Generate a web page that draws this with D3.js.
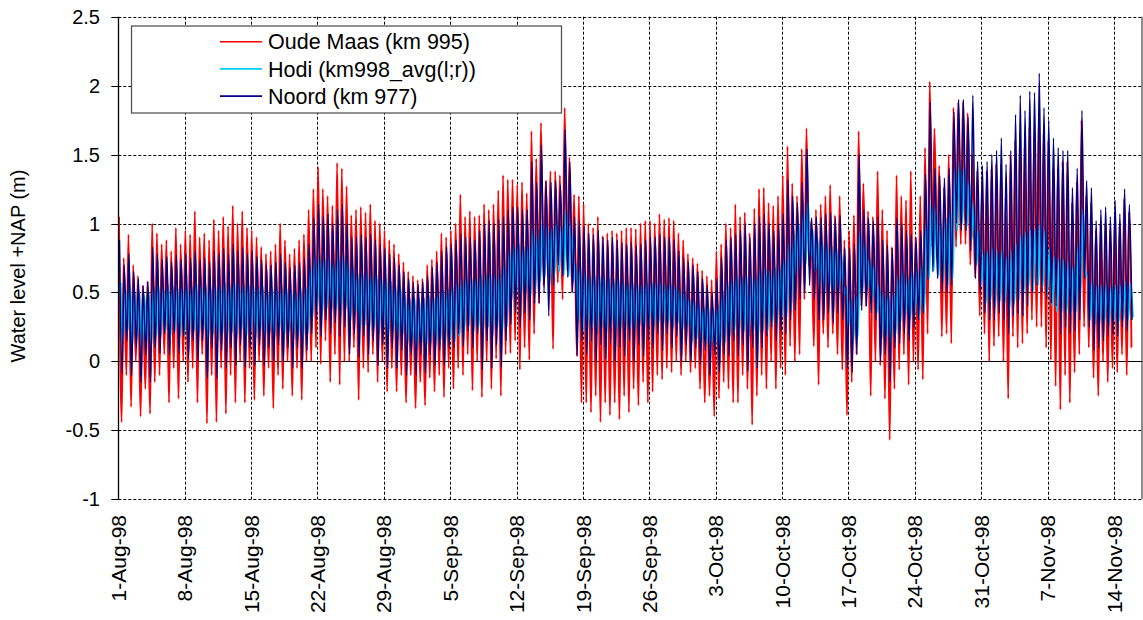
<!DOCTYPE html>
<html>
<head>
<meta charset="utf-8">
<script src="https://cdn.jsdelivr.net/npm/d3@7"></script>
<style>
  body { margin: 0; background: #fff; }
  text { font-family: "Liberation Sans", Arial, sans-serif; fill: #000; }
</style>
</head>
<body>
<div id="chart"></div>
<script>
// tide extremes, two tides a day from 1-Aug-98, in cm +NAP
// one line = one week (7 days x 2 tides)
const oudeMaasHigh = [
  105,75, 92,70, 62,55, 58,100, 93,85, 88,80, 97,85,
  95,92, 109,90, 93,88, 103,95, 105,98, 113,100, 109,97,
  95,90, 83,78, 80,85, 100,88, 78,82, 88,92, 110,125,
  141,125, 120,113, 144,140, 127,106, 110,112, 108,114, 102,100,
  95,88, 85,78, 72,65, 62,59, 60,70, 74,80, 93,90,
  95,100, 121,105, 109,105, 106,114, 110,114, 124,135, 132,132,
  128,130, 122,167, 147,173, 131,138, 138,135, 184,148, 121,120,
  114,100, 97,105, 91,93, 95,93, 95,97, 97,96, 100,102,
  102,100, 107,103, 104,102, 93,88, 78,75, 71,66, 62,59,
  80,85, 100,97, 114,105, 108,93, 111,125, 126,115, 113,120,
  135,156, 129,120, 154,169, 102,110, 114,120, 128,106, 120,88,
  95,106, 167,129, 109,105, 138,110, 95,83, 135,120, 117,138,
  90,120, 155,203, 169,142, 126,150, 184,188, 188,180, 150,138,
  130,138, 140,143, 143,119, 150,160, 165,155, 170,162, 180,165,
  160,140, 140,145, 145,115, 130,175, 120,115, 95,100, 100,95,
  105,98, 118,108
];
const oudeMaasLow = [
  -44,-10, -33,0, -40,-20, -38,-15, -10,5, -30,-5, -27,0,
  -15,-5, -30,5, -45,-10, -44,-5, -38,-10, -30,0, -30,-5,
  -28,0, -25,-5, -34,-10, -20,0, -25,-5, -28,0, 0,10,
  -2,15, -15,5, -17,0, 0,10, -28,-5, -8,5, -15,0,
  -22,-5, -22,-10, -30,-10, -34,-15, -32,-12, -22,-10, -26,-5,
  -20,-5, -10,5, -21,0, -26,0, -20,2, -25,5, 6,15,
  -6,10, 1,20, 42,55, 62,9, 57,45, 66,50, 4,-30,
  -30,-37, -25,-44, -30,-39, -30,-42, -25,-37, -20,-32, -15,-30,
  -22,-10, -13,-5, -8,0, -10,0, -8,-5, -20,-30, -25,-40,
  -27,-15, -20,-30, -30,-10, -20,-46, -25,-10, -20,0, -20,-5,
  -10,11, 0,5, 45,69, 11,-17, 20,10, 20,5, -6,-39,
  -15,5, 40,40, -25,0, -3,-27, -57,-20, -6,5, -17,0,
  -6,-13, 20,83, 75,18, 20,13, 83,85, 85,70, 61,33,
  20,0, 11,18, 0,-27, 18,10, 13,20, 30,25, 25,10,
  1,-18, -35,-10, -30,-8, 5,25, 10,-12, -25,0, -15,-5,
  -8,5, -10,10
];
const hodiHigh = [
  57,52, 55,50, 50,48, 50,55, 55,53, 56,54, 55,53,
  56,54, 57,55, 55,53, 56,55, 57,55, 58,56, 57,55,
  56,54, 54,52, 53,52, 55,53, 52,50, 53,55, 68,75,
  78,74, 75,72, 76,78, 72,68, 64,65, 64,66, 63,62,
  60,58, 56,54, 48,46, 46,45, 46,48, 48,50, 52,53,
  54,56, 60,60, 61,60, 62,64, 64,63, 66,70, 82,85,
  85,84, 84,95, 92,100, 98,97, 100,98, 110,100, 72,68,
  64,62, 62,63, 62,60, 60,60, 58,58, 57,56, 56,57,
  58,57, 57,56, 56,55, 52,50, 46,44, 42,40, 40,38,
  42,50, 58,60, 62,63, 63,62, 64,66, 68,66, 68,70,
  75,85, 95,100, 108,115, 95,90, 86,85, 84,82, 80,55,
  45,48, 95,85, 75,70, 55,50, 48,50, 62,64, 62,65,
  66,70, 100,115, 112,100, 105,110, 140,145, 140,130, 115,95,
  80,80, 82,80, 80,76, 80,85, 92,94, 95,96, 100,95,
  82,76, 75,74, 72,70, 85,110, 62,58, 55,56, 55,54,
  56,55, 58,56
];
const hodiLow = [
  15,22, 12,18, 10,15, 10,18, 18,22, 17,22, 18,21,
  17,22, 18,23, 15,20, 14,20, 16,21, 17,22, 17,22,
  17,22, 17,21, 18,22, 18,22, 16,20, 16,20, 32,38,
  34,38, 35,38, 34,38, 30,34, 22,26, 22,25, 20,24,
  18,22, 16,20, 10,14, 10,13, 10,14, 12,15, 13,16,
  14,18, 22,26, 22,25, 20,25, 18,24, 20,25, 45,50,
  47,50, 47,52, 58,62, 55,62, 65,63, 62,58, 28,22,
  22,25, 20,24, 21,25, 21,24, 22,25, 23,26, 24,27,
  25,28, 25,28, 24,27, 22,25, 14,16, 11,14, 10,12,
  10,14, 18,22, 19,22, 18,21, 18,22, 22,28, 28,32,
  32,38, 62,70, 70,75, 65,55, 50,52, 50,52, 48,25,
  13,18, 50,52, 45,35, 15,18, 14,20, 28,32, 30,34,
  32,36, 60,66, 62,58, 55,60, 95,100, 98,88, 70,55,
  42,44, 40,44, 42,38, 42,45, 50,54, 52,55, 54,50,
  40,36, 35,36, 34,36, 50,64, 30,27, 27,29, 27,29,
  28,30, 30,32
];
const noordHigh = [
  88,70, 78,65, 60,55, 58,83, 78,74, 76,72, 77,74,
  78,75, 80,74, 75,72, 80,78, 82,78, 85,80, 83,78,
  80,76, 74,70, 70,72, 78,72, 68,70, 72,75, 85,104,
  114,105, 107,100, 110,114, 100,90, 90,92, 90,92, 88,85,
  82,78, 75,70, 65,60, 57,56, 58,62, 68,72, 80,83,
  85,88, 92,90, 90,88, 95,100, 102,100, 103,105, 110,112,
  112,110, 110,145, 130,157, 131,130, 131,128, 168,145, 105,102,
  98,93, 92,95, 90,88, 90,88, 86,85, 86,84, 85,88,
  90,90, 92,90, 90,88, 80,75, 72,70, 65,60, 55,50,
  60,75, 88,90, 92,95, 100,90, 100,105, 107,100, 95,100,
  107,132, 120,115, 130,154, 104,105, 104,107, 108,104, 106,82,
  82,85, 150,110, 104,102, 105,88, 84,82, 104,100, 95,92,
  90,95, 136,188, 140,135, 133,140, 181,190, 190,177, 193,145,
  142,145, 150,153, 162,143, 153,179, 193,182, 196,195, 209,184,
  175,162, 155,153, 153,126, 140,182, 131,126, 102,110, 112,105,
  117,107, 125,114
];
const noordLow = [
  -9,15, -10,10, -15,5, -15,10, 6,20, 5,20, 6,18,
  2,15, 0,15, -12,10, -12,8, -5,10, -3,12, -4,10,
  -3,12, -3,10, 0,12, 0,10, -5,10, -5,8, 20,30,
  18,30, 20,28, 18,25, 5,20, 3,18, 5,15, -3,12,
  -5,10, -5,8, -10,5, -10,5, -8,5, -3,8, -3,10,
  10,20, 11,22, 10,20, -6,15, -5,12, -4,15, 27,35,
  25,35, 30,42, 42,50, 33,55, 70,62, 61,50, 4,15,
  5,15, 0,12, 2,12, 0,10, 4,15, 0,12, 4,15,
  10,20, 8,20, 10,18, 0,12, 0,10, -2,8, -10,5,
  -8,5, 4,15, 4,12, -7,10, -5,10, 18,25, 15,22,
  20,30, 37,45, 50,55, 45,30, 30,35, 28,35, 30,-5,
  -8,5, 37,40, 35,30, 0,5, -15,10, 13,20, 15,25,
  30,35, 59,65, 60,50, 50,55, 100,95, 95,80, 60,50,
  35,30, 30,35, 30,20, 33,35, 33,40, 50,55, 50,45,
  42,40, 20,25, 20,22, 30,60, 25,8, 10,15, 18,20,
  18,25, 22,30
];

const seriesNames = ["Oude Maas (km 995)", "Hodi (km998_avg(l;r))", "Noord (km 977)"];
const seriesColors = ["#ff0000", "#00ccff", "#000080"];
const dateLabels = ["1-Aug-98", "8-Aug-98", "15-Aug-98", "22-Aug-98", "29-Aug-98", "5-Sep-98",
  "12-Sep-98", "19-Sep-98", "26-Sep-98", "3-Oct-98", "10-Oct-98", "17-Oct-98", "24-Oct-98",
  "31-Oct-98", "7-Nov-98", "14-Nov-98"];
const levelTicks = [-1, -0.5, 0, 0.5, 1, 1.5, 2, 2.5];

const width = 1143, height = 620;
const plotLeft = 118.3, plotRight = 1142.4, plotTop = 16.7, plotBottom = 499.3;

const parseLabel = d3.utcParse("%d-%b-%y");
const start = parseLabel("1-Aug-98");
const end = parseLabel("17-Nov-98");

const x = d3.scaleUtc().domain([start, end]).range([plotLeft, plotRight]);
const y = d3.scaleLinear().domain([-1, 2.5]).range([plotBottom, plotTop]);

// HW and LW alternate, half a day per tide; each station has its own time lag
function tides(high, low, hwLag, lwLag) {
  const pts = [];
  high.forEach((h, i) => {
    pts.push({ t: i * 0.5 + hwLag, v: h / 100 });
    if (i < low.length) pts.push({ t: i * 0.5 + lwLag, v: low[i] / 100 });
  });
  return pts;
}
const series = [
  tides(oudeMaasHigh, oudeMaasLow, 0.07, 0.35),
  tides(hodiHigh, hodiLow, 0.24, 0.49),
  tides(noordHigh, noordLow, 0.12, 0.40)
];
const strokeWidths = [1.9, 2.1, 1.5];

const svg = d3.select("#chart").append("svg")
  .attr("width", width)
  .attr("height", height);

// gridlines
const grid = svg.append("g")
  .attr("stroke", "#000")
  .attr("stroke-width", 1)
  .attr("stroke-dasharray", "3,2");

grid.selectAll(".hgrid")
  .data(levelTicks.filter(d => d !== 0))
  .enter().append("line")
  .attr("x1", plotLeft).attr("x2", plotRight)
  .attr("y1", d => Math.round(y(d)) + 0.5)
  .attr("y2", d => Math.round(y(d)) + 0.5);

grid.selectAll(".vgrid")
  .data(dateLabels.slice(1))
  .enter().append("line")
  .attr("x1", d => Math.round(x(parseLabel(d))) + 0.5)
  .attr("x2", d => Math.round(x(parseLabel(d))) + 0.5)
  .attr("y1", plotTop).attr("y2", plotBottom);

// zero line (category axis)
svg.append("line")
  .attr("x1", plotLeft).attr("x2", plotRight)
  .attr("y1", Math.round(y(0)) + 0.5).attr("y2", Math.round(y(0)) + 0.5)
  .attr("stroke", "#000").attr("stroke-width", 1.2);

// series
const line = d3.line()
  .x(d => x(new Date(start.getTime() + d.t * 864e5)))
  .y(d => y(d.v))
  .curve(d3.curveMonotoneX);

svg.append("g").selectAll("path")
  .data(series)
  .enter().append("path")
  .attr("d", line)
  .attr("fill", "none")
  .attr("stroke", (d, i) => seriesColors[i])
  .attr("stroke-width", (d, i) => strokeWidths[i])
  .attr("stroke-linejoin", "round");

// value axis
const yAxis = svg.append("g");
yAxis.append("line")
  .attr("x1", Math.round(plotLeft) + 0.5).attr("x2", Math.round(plotLeft) + 0.5)
  .attr("y1", plotTop).attr("y2", plotBottom)
  .attr("stroke", "#000").attr("stroke-width", 1.3);

yAxis.selectAll(".tick")
  .data(levelTicks)
  .enter().append("line")
  .attr("x1", plotLeft - 7).attr("x2", plotLeft)
  .attr("y1", d => Math.round(y(d)) + 0.5)
  .attr("y2", d => Math.round(y(d)) + 0.5)
  .attr("stroke", "#000");

yAxis.selectAll(".label")
  .data(levelTicks)
  .enter().append("text")
  .attr("x", 100)
  .attr("y", d => y(d))
  .attr("dy", "0.35em")
  .attr("text-anchor", "end")
  .style("font-size", "20px")
  .text(d => d);

// right border
svg.append("line")
  .attr("x1", 1142).attr("x2", 1142)
  .attr("y1", plotTop).attr("y2", plotBottom)
  .attr("stroke", "#444").attr("stroke-width", 1.2);

// date labels
svg.append("g").selectAll("text")
  .data(dateLabels)
  .enter().append("text")
  .attr("transform", d => `translate(${x(parseLabel(d))}, 515) rotate(-90)`)
  .attr("dy", "0.36em")
  .attr("text-anchor", "end")
  .style("font-size", "21px")
  .text(d => d);

// axis title
svg.append("text")
  .attr("transform", "translate(18, 266) rotate(-90)")
  .attr("dy", "0.36em")
  .attr("text-anchor", "middle")
  .style("font-size", "20px")
  .text("Water level +NAP (m)");

// legend
const legend = svg.append("g");
legend.append("rect")
  .attr("x", 131.5).attr("y", 26)
  .attr("width", 430).attr("height", 87)
  .attr("fill", "#fff")
  .attr("stroke", "#555")
  .attr("stroke-width", 1.3);

const rows = legend.selectAll(".row")
  .data(seriesNames)
  .enter().append("g")
  .attr("transform", (d, i) => `translate(0, ${41.7 + i * 27.2})`);

rows.append("line")
  .attr("x1", 220).attr("x2", 262)
  .attr("stroke", (d, i) => seriesColors[i])
  .attr("stroke-width", 1.6);

rows.append("text")
  .attr("x", 268)
  .attr("dy", "0.36em")
  .style("font-size", "21.5px")
  .text(d => d);
</script>
</body>
</html>
